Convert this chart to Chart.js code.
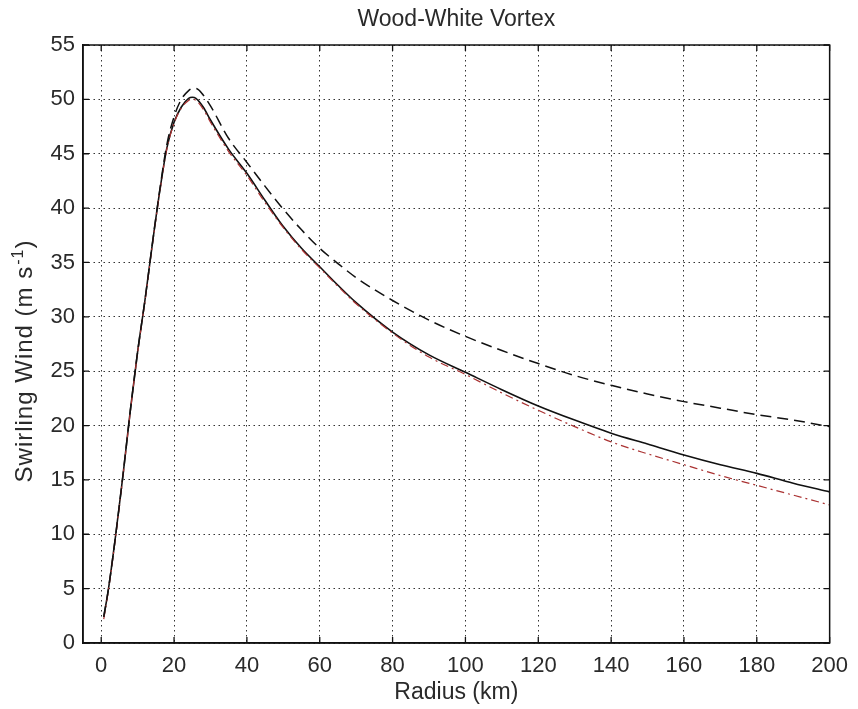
<!DOCTYPE html>
<html>
<head>
<meta charset="utf-8">
<script src="https://cdn.jsdelivr.net/npm/chart.js@4"></script>
<style>
  html, body { margin: 0; padding: 0; background: #fff; }
  #wrap { width: 858px; height: 709px; }
</style>
</head>
<body>
<div id="wrap"><canvas id="c" width="858" height="709"></canvas></div>
<script>
// Radius (km) sample positions shared by all three profiles
const radiusKm = [0.7, 2, 4, 6, 8, 10, 12, 14, 16, 18, 20, 22, 24, 25, 26, 28, 30, 35, 40, 45,
                  50, 55, 60, 65, 70, 80, 90, 100, 110, 120, 130, 140, 150, 160, 170, 180, 190, 200];

// Swirling wind (m/s) for each profile
const windSolid = [2.4, 5.0, 10.0, 15.5, 21.4, 26.8, 31.5, 36.6, 41.4, 45.5, 47.9, 49.3, 50.1, 50.2, 50.1, 49.3, 48.1, 45.4, 43.2, 40.7,
                   38.3, 36.3, 34.6, 32.9, 31.3, 28.6, 26.5, 24.9, 23.3, 21.8, 20.5, 19.3, 18.3, 17.3, 16.4, 15.6, 14.7, 13.9];
const windDashed = [2.4, 5.0, 10.0, 15.5, 21.4, 26.8, 31.5, 36.6, 41.5, 45.8, 48.4, 50.0, 50.8, 51.0, 51.0, 50.4, 49.4, 46.4, 44.2, 42.0,
                    39.9, 38.0, 36.3, 34.9, 33.6, 31.5, 29.7, 28.2, 26.9, 25.7, 24.6, 23.7, 22.9, 22.2, 21.6, 21.0, 20.5, 19.9];
const windDashDot = [2.2, 4.9, 9.9, 15.4, 21.3, 26.7, 31.4, 36.5, 41.3, 45.4, 47.8, 49.2, 49.9, 50.0, 49.9, 49.1, 47.9, 45.2, 43.0, 40.5,
                     38.2, 36.2, 34.5, 32.8, 31.2, 28.5, 26.3, 24.7, 23.0, 21.4, 19.9, 18.5, 17.4, 16.4, 15.4, 14.5, 13.6, 12.7];

// Tick values
const xTickValues = [0, 20, 40, 60, 80, 100, 120, 140, 160, 180, 200];
const yTickValues = [0, 5, 10, 15, 20, 25, 30, 35, 40, 45, 50, 55];

// Y axis label pieces (base text, superscript, closing)
const yLabelBase = 'Swirling Wind (m s';
const yLabelSup = '-1';
const yLabelEnd = ')';

const FONT = 'Liberation Sans, Arial, sans-serif';
const TEXT = '#2a2a2a';
const pts = vals => radiusKm.map((r, i) => ({ x: r, y: vals[i] }));

// Box outline on top/right plus MATLAB-style inward tick marks on all sides
const boxPlugin = {
  id: 'box',
  afterDraw(chart) {
    const { ctx, chartArea: a, scales: { x, y } } = chart;
    ctx.save();
    ctx.setLineDash([]);
    ctx.strokeStyle = '#111';
    ctx.lineWidth = 1.5;
    ctx.strokeRect(a.left, a.top, a.right - a.left, a.bottom - a.top);
    ctx.lineWidth = 1.3;
    const L = 6;
    ctx.beginPath();
    xTickValues.forEach(v => {
      const px = x.getPixelForValue(v);
      ctx.moveTo(px, a.bottom); ctx.lineTo(px, a.bottom - L);
      ctx.moveTo(px, a.top); ctx.lineTo(px, a.top + L);
    });
    yTickValues.forEach(v => {
      const py = y.getPixelForValue(v);
      ctx.moveTo(a.left, py); ctx.lineTo(a.left + L, py);
      ctx.moveTo(a.right, py); ctx.lineTo(a.right - L, py);
    });
    ctx.stroke();
    ctx.restore();
  }
};

// Rotated y-axis label with a raised "-1" exponent
const yLabelPlugin = {
  id: 'yLabel',
  afterDraw(chart) {
    const { ctx, chartArea: a } = chart;
    ctx.save();
    ctx.fillStyle = TEXT;
    ctx.textBaseline = 'alphabetic';
    ctx.textAlign = 'left';
    if ('letterSpacing' in ctx) ctx.letterSpacing = '1px';
    const mainFont = `24px ${FONT}`;
    const supFont = `16px ${FONT}`;
    ctx.font = mainFont;
    const w1 = ctx.measureText(yLabelBase).width;
    const w3 = ctx.measureText(yLabelEnd).width;
    ctx.font = supFont;
    const w2 = ctx.measureText(yLabelSup).width;
    const total = w1 + w2 + w3 + 1;
    const cy = (a.top + a.bottom) / 2 + 17;
    ctx.translate(32, cy + total / 2);
    ctx.rotate(-Math.PI / 2);
    ctx.font = mainFont;
    ctx.fillText(yLabelBase, 0, 0);
    ctx.font = supFont;
    ctx.fillText(yLabelSup, w1 + 1, -9);
    ctx.font = mainFont;
    ctx.fillText(yLabelEnd, w1 + w2 + 1, 0);
    ctx.restore();
  }
};

new Chart(document.getElementById('c'), {
  type: 'line',
  data: {
    datasets: [
      { data: pts(windDashed), borderColor: '#111', borderWidth: 1.5, borderDash: [11, 6] },
      { data: pts(windDashDot), borderColor: 'rgb(170,50,50)', borderWidth: 1.2, borderDash: [8, 4, 2, 4] },
      { data: pts(windSolid), borderColor: '#111', borderWidth: 1.6 }
    ]
  },
  options: {
    responsive: false,
    animation: false,
    events: [],
    layout: { padding: { left: 0, right: 21, top: 0, bottom: 0 } },
    elements: {
      point: { radius: 0 },
      line: { cubicInterpolationMode: 'monotone', fill: false }
    },
    plugins: {
      legend: { display: false },
      tooltip: { enabled: false },
      title: {
        display: true,
        fullSize: false,
        text: 'Wood-White Vortex',
        color: TEXT,
        font: { family: FONT, size: 23, weight: 'normal' },
        padding: { top: 6, bottom: 11.4 }
      }
    },
    scales: {
      x: {
        type: 'linear',
        min: -5, max: 200,
        afterBuildTicks: s => { s.ticks = xTickValues.map(v => ({ value: v })); },
        afterFit: s => { s.height = 66; },
        grid: { color: '#333', lineWidth: 1, drawTicks: false },
        border: { display: true, color: '#111', width: 1.5, dash: [1.5, 3.5] },
        ticks: { color: TEXT, font: { family: FONT, size: 22 }, padding: 10, maxRotation: 0 },
        title: { display: true, text: 'Radius (km)', color: TEXT, font: { family: FONT, size: 23 }, padding: { top: 0, bottom: 3 } }
      },
      y: {
        type: 'linear',
        min: 0, max: 55,
        afterBuildTicks: s => { s.ticks = yTickValues.map(v => ({ value: v })); },
        afterFit: s => { s.width = 83; },
        grid: { color: '#333', lineWidth: 1, drawTicks: false },
        border: { display: true, color: '#111', width: 1.5, dash: [1.5, 3.5] },
        ticks: { color: TEXT, font: { family: FONT, size: 22 }, padding: 8 },
        title: { display: false }
      }
    }
  },
  plugins: [boxPlugin, yLabelPlugin]
});
</script>
</body>
</html>
